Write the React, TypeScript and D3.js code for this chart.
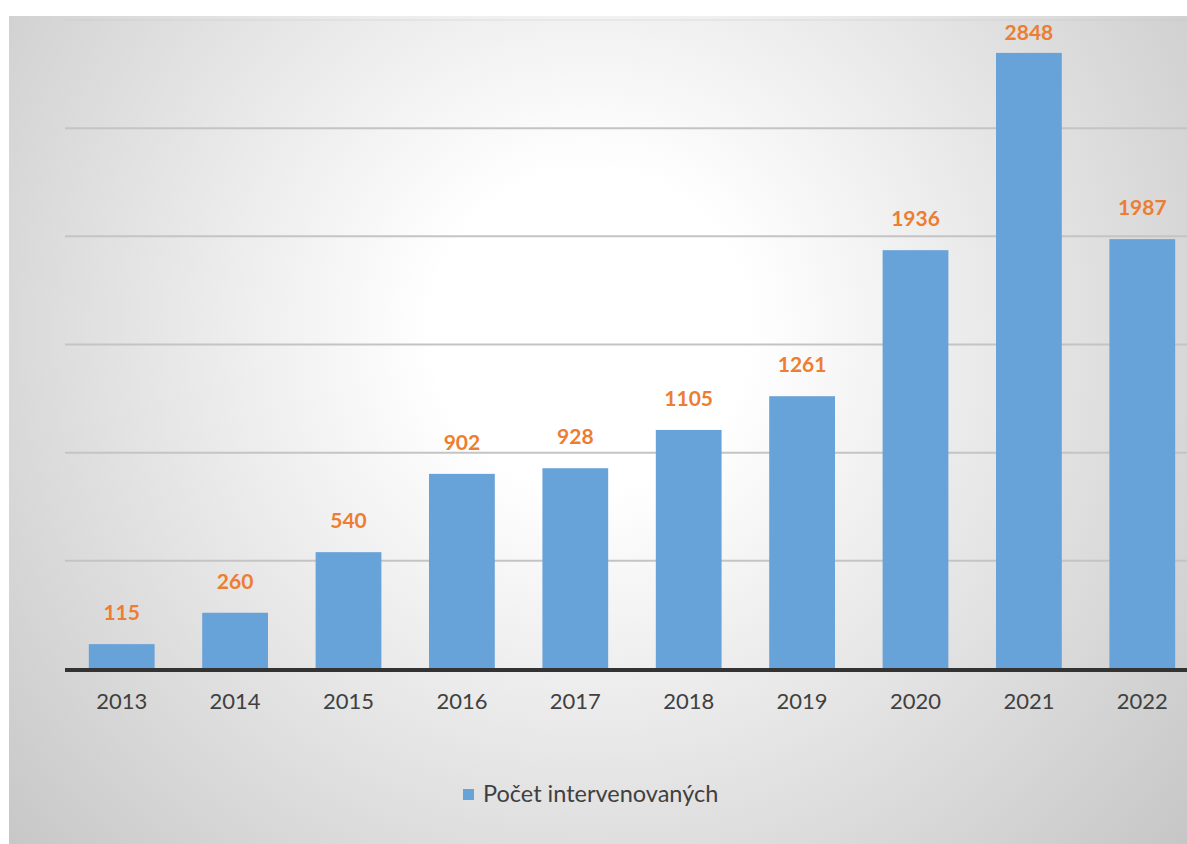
import React from "react";
import * as d3 from "d3";

const years = ["2013", "2014", "2015", "2016", "2017", "2018", "2019", "2020", "2021", "2022"];
const counts = [115, 260, 540, 902, 928, 1105, 1261, 1936, 2848, 1987];
const gridValues = [500, 1000, 1500, 2000, 2500, 3000];
const seriesName = "Počet intervenovaných";

const W = 1187;
const H = 844;

export default function App() {
  const x = d3.scaleBand<string>().domain(years).range([65, 1199]).paddingInner(0.42).paddingOuter(0.21);
  const y = d3.scaleLinear().domain([0, 3000]).range([669, 20]);
  const font = "Lato, 'Open Sans', sans-serif";

  return (
    <svg width={W} height={H} style={{ position: "absolute", left: 0, top: 0 }}>
      <defs>
        <radialGradient id="bg" gradientUnits="userSpaceOnUse" cx={590} cy={330} r={790}>
          <stop offset="0" stopColor="#ffffff" />
          <stop offset="0.2" stopColor="#ffffff" />
          <stop offset="1" stopColor="#c6c6c6" />
        </radialGradient>
      </defs>
      <rect x={0} y={0} width={W} height={H} fill="#ffffff" />
      <rect x={9} y={16} width={W - 9} height={H - 16} fill="url(#bg)" />
      {gridValues.map((v) => (
        <line
          key={v}
          x1={65}
          x2={W}
          y1={y(v)}
          y2={y(v)}
          stroke="#c4c4c4"
          strokeWidth={v === 3000 ? 1 : 2}
          opacity={v === 3000 ? 0.4 : 1}
        />
      ))}
      {years.map((yr, i) => (
        <rect
          key={yr}
          x={x(yr)}
          y={y(counts[i])}
          width={x.bandwidth()}
          height={y(0) - y(counts[i])}
          fill="#67a2d8"
        />
      ))}
      <line x1={65} x2={W} y1={y(0) + 1} y2={y(0) + 1} stroke="#333333" strokeWidth={4} />
      {years.map((yr, i) => (
        <text
          key={"l" + yr}
          x={(x(yr) as number) + x.bandwidth() / 2}
          y={Math.max(y(counts[i]) - 24, 40)}
          textAnchor="middle"
          fontFamily={font}
          fontWeight={700}
          fontSize={21}
          fill="#ed7d31"
        >
          {counts[i]}
        </text>
      ))}
      {years.map((yr) => (
        <text
          key={"t" + yr}
          x={(x(yr) as number) + x.bandwidth() / 2}
          y={709}
          textAnchor="middle"
          fontFamily={font}
          fontSize={22}
          fill="#404040"
        >
          {yr}
        </text>
      ))}
      <rect x={463} y={789} width={11} height={11} fill="#67a2d8" />
      <text x={483} y={802} fontFamily={font} fontSize={23.5} fill="#404040">
        {seriesName}
      </text>
    </svg>
  );
}
